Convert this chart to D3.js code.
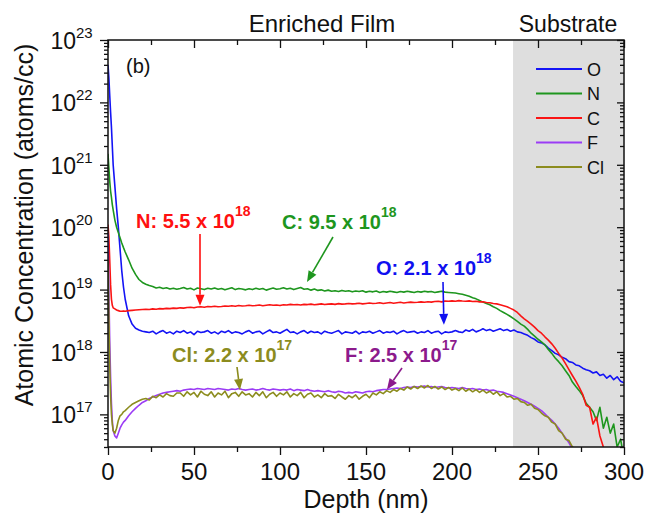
<!DOCTYPE html>
<html>
<head>
<meta charset="utf-8">
<script src="https://cdn.jsdelivr.net/npm/d3@7"></script>
<style>
  html, body { margin: 0; padding: 0; background: #fff; }
  svg { display: block; font-family: "Liberation Sans", Arial, sans-serif; }
</style>
</head>
<body>
<svg id="chart" width="648" height="517"></svg>
<script>
// Depth grid (nm): fine near the surface, 2 nm steps afterwards
const depthSurface = [0, 0.5, 1, 1.5, 2, 2.5, 3, 4, 5, 6, 7, 8, 9, 10, 12, 14, 16, 18, 20];
const depthNm = depthSurface.concat(d3.range(22, 301, 2));

// Oxygen, atoms/cc in units of 1e18
const oxygen = [
  40000, 25000, 13000, 7000, 4000, 2000, 1000, 450, 200, 100, 45, 20, 11, 7, 3.8, 2.8, 2.4, 2.25, 2.15,
  2.1, 2.05, 2.15, 1.95, 2.1, 2.2, 2.0, 2.1, 1.95, 2.15,
  2.05, 2.2, 2.0, 2.1, 1.9, 2.15, 2.05, 2.1, 2.2, 2.0,
  2.1, 1.95, 2.15, 2.05, 2.2, 2.0, 2.1, 2.05, 1.95, 2.1,
  2.2, 2.0, 2.1, 2.15, 1.95, 2.1, 2.25, 2.05, 2.1, 2.0,
  2.15, 2.3, 2.05, 2.1, 1.95, 2.1, 2.2, 2.0, 2.15, 2.05,
  2.1, 1.95, 2.15, 2.05, 2.0, 2.1, 2.2, 1.95, 2.1, 2.05,
  2.0, 2.15, 1.95, 2.1, 2.05, 2.15, 2.0, 2.1, 2.2, 2.0,
  2.1, 2.05, 2.15, 1.95, 2.1, 2.2, 2.05, 2.1, 2.15, 2.0,
  2.1, 2.05, 2.2, 2.0, 2.1, 2.15, 1.95, 2.1, 2.05, 2.1,
  2.2, 2.1, 2.05, 2.25, 2.15, 2.3, 2.1, 2.2, 2.35, 2.2,
  2.3, 2.15, 2.25, 2.35, 2.2, 2.3, 2.15, 2.25, 2.1, 2.05,
  1.95, 1.85, 1.7, 1.6, 1.45, 1.4, 1.3, 1.15, 1.05, 0.95,
  0.9, 0.82, 0.78, 0.7, 0.68, 0.62, 0.6, 0.55, 0.52, 0.5,
  0.46, 0.48, 0.42, 0.44, 0.38, 0.42, 0.36, 0.4, 0.34, 0.32
];

// Nitrogen, atoms/cc in units of 1e18
const nitrogen = [
  1500, 900, 550, 380, 300, 230, 190, 130, 100, 82, 68, 56, 47, 40, 30, 22, 17.5, 14.5, 13,
  12.2, 11.6, 11.2, 10.6, 10.9, 10.4, 10.7, 10.2, 10.5, 10.1,
  10.4, 10.8, 10.2, 10.5, 9.9, 10.6, 10.3, 10.0, 10.5, 10.2,
  10.6, 10.1, 10.4, 9.9, 10.3, 10.7, 10.0, 10.4, 10.2, 9.9,
  10.3, 10.0, 10.5, 10.1, 10.4, 9.8, 10.2, 10.6, 10.1, 10.3,
  10.7, 10.2, 10.5, 10.0, 10.4, 10.8, 10.1, 10.3, 9.8, 10.2,
  9.7, 9.9, 9.5, 9.8, 9.4, 9.6, 9.3, 9.7, 9.4, 9.6,
  9.2, 9.5, 9.3, 9.6, 9.1, 9.4, 9.2, 9.5, 9.0, 9.3,
  9.1, 9.4, 9.2, 9.0, 9.3, 9.1, 9.4, 9.2, 9.0, 9.3,
  9.1, 9.4, 9.2, 9.3, 9.0, 9.2, 9.4, 9.1, 9.0, 8.9,
  8.8, 8.6, 8.4, 8.1, 7.8, 7.4, 7.1, 6.7, 6.3, 6.0,
  5.7, 5.3, 5.0, 4.6, 4.3, 4.0, 3.7, 3.4, 3.1, 2.8,
  2.6, 2.3, 2.0, 1.8, 1.6, 1.45, 1.3, 1.1, 0.95, 0.8,
  0.7, 0.6, 0.5, 0.42, 0.33, 0.28, 0.24, 0.2, 0.15, 0.13,
  0.11, 0.08, 0.13, 0.06, 0.09, 0.05, 0.07, 0.03, 0.04, 0.02
];

// Carbon, atoms/cc in units of 1e18
const carbon = [
  110, 70, 30, 12, 7, 5.6, 5.1, 4.9, 4.7, 4.6, 4.5, 4.5, 4.55, 4.5, 4.6, 4.65, 4.7, 4.75, 4.8,
  4.85, 4.8, 4.9, 4.85, 4.95, 4.9, 5.0, 4.95, 5.05, 5.0,
  5.1, 5.05, 5.15, 5.2, 5.1, 5.25, 5.3, 5.2, 5.35, 5.3,
  5.4, 5.3, 5.35, 5.45, 5.4, 5.5, 5.4, 5.55, 5.45, 5.5,
  5.6, 5.5, 5.55, 5.65, 5.5, 5.6, 5.7, 5.6, 5.65, 5.55,
  5.7, 5.65, 5.8, 5.7, 5.75, 5.65, 5.8, 5.75, 5.85, 5.7,
  5.8, 5.9, 5.75, 5.85, 5.9, 5.8, 5.95, 5.85, 5.9, 6.0,
  5.9, 5.95, 6.05, 5.9, 6.0, 6.1, 6.0, 6.05, 6.15, 6.0,
  6.1, 6.2, 6.05, 6.15, 6.25, 6.1, 6.2, 6.3, 6.2, 6.25,
  6.35, 6.25, 6.4, 6.3, 6.45, 6.5, 6.35, 6.55, 6.5, 6.6,
  6.5, 6.65, 6.55, 6.5, 6.6, 6.45, 6.5, 6.35, 6.4, 6.2,
  6.15, 6.0, 5.9, 5.7, 5.5, 5.3, 5.0, 4.7, 4.3, 3.8,
  3.4, 3.1, 2.8, 2.5, 2.2, 2.0, 1.75, 1.55, 1.35, 1.15,
  0.95, 0.8, 0.65, 0.52, 0.42, 0.34, 0.27, 0.21, 0.14, 0.13,
  0.07, 0.09, 0.045, 0.03, 0.022, 0.018, 0.015, 0.012, 0.01, 0.01
];

// Fluorine, atoms/cc in units of 1e17
const fluorine = [
  800, 100, 15, 4, 1.5, 0.8, 0.55, 0.45, 0.42, 0.5, 0.6, 0.68, 0.75, 0.8, 0.95, 1.1, 1.25, 1.4, 1.55,
  1.65, 1.8, 1.9, 2.0, 2.1, 2.2, 2.25, 2.3, 2.35, 2.4,
  2.35, 2.45, 2.5, 2.55, 2.5, 2.6, 2.55, 2.5, 2.6, 2.55,
  2.5, 2.6, 2.55, 2.5, 2.45, 2.55, 2.5, 2.6, 2.5, 2.45,
  2.5, 2.55, 2.45, 2.5, 2.6, 2.5, 2.45, 2.55, 2.5, 2.45,
  2.5, 2.45, 2.55, 2.4, 2.5, 2.45, 2.4, 2.5, 2.4, 2.35,
  2.4, 2.35, 2.3, 2.4, 2.3, 2.25, 2.35, 2.3, 2.2, 2.25,
  2.2, 2.3, 2.25, 2.2, 2.3, 2.35, 2.3, 2.4, 2.45, 2.5,
  2.5, 2.55, 2.6, 2.65, 2.6, 2.7, 2.75, 2.7, 2.8, 2.75,
  2.8, 2.85, 2.75, 2.8, 2.7, 2.75, 2.8, 2.7, 2.65, 2.7,
  2.65, 2.6, 2.7, 2.6, 2.55, 2.6, 2.5, 2.55, 2.45, 2.5,
  2.4, 2.45, 2.35, 2.3, 2.25, 2.15, 2.05, 1.95, 1.85, 1.75,
  1.65, 1.55, 1.45, 1.35, 1.25, 1.15, 1.02, 0.9, 0.8, 0.7,
  0.6, 0.5, 0.42, 0.35, 0.28, 0.22, 0.18, 0.14, 0.1, 0.08,
  0.06, 0.05, 0.04, 0.03, 0.02, 0.02, 0.02, 0.02, 0.02, 0.02
];

// Chlorine, atoms/cc in units of 1e17
const chlorine = [
  300, 40, 6, 2, 1.0, 0.7, 0.55, 0.5, 0.6, 0.8, 0.95, 1.0, 1.1, 1.15, 1.3, 1.45, 1.55, 1.65, 1.75,
  1.8, 1.7, 1.95, 1.85, 2.05, 1.9, 2.15, 2.0, 1.95, 2.2,
  2.2, 1.95, 2.3, 2.05, 2.25, 1.9, 2.35, 2.1, 2.0, 2.3,
  1.9, 2.2, 2.05, 2.35, 1.85, 2.15, 2.25, 1.95, 2.3, 2.05,
  2.15, 1.9, 2.25, 2.0, 2.3, 1.85, 2.1, 2.25, 1.95, 2.2,
  2.05, 2.3, 1.9, 2.15, 2.0, 2.25, 1.85, 2.1, 2.2, 1.9,
  2.05, 1.85, 2.15, 1.95, 2.0, 1.8, 2.1, 1.9, 1.75, 2.0,
  1.85, 2.05, 1.75, 1.95, 2.1, 1.85, 2.2, 2.05, 2.3, 2.15,
  2.4, 2.25, 2.5, 2.35, 2.6, 2.45, 2.75, 2.55, 2.8, 2.6,
  2.85, 2.65, 2.9, 2.6, 2.8, 2.55, 2.75, 2.5, 2.7, 2.45,
  2.6, 2.4, 2.65, 2.35, 2.55, 2.3, 2.5, 2.25, 2.45, 2.2,
  2.35, 2.1, 2.3, 2.0, 2.15, 1.9, 1.95, 1.75, 1.8, 1.6,
  1.55, 1.4, 1.45, 1.25, 1.2, 1.05, 0.95, 0.9, 0.75, 0.7,
  0.55, 0.5, 0.4, 0.38, 0.3, 0.28, 0.22, 0.25, 0.15, 0.12,
  0.08, 0.06, 0.05, 0.04, 0.03, 0.02, 0.02, 0.02, 0.02, 0.02
];

const elements = ["O", "N", "C", "F", "Cl"];
const seriesValues = [oxygen, nitrogen, carbon, fluorine, chlorine];
const seriesUnits = [1e18, 1e18, 1e18, 1e17, 1e17];
const seriesColors = ["#1414f5", "#1e961e", "#fa1414", "#9b3cf5", "#8c8c1e"];

const xTicks = [0, 50, 100, 150, 200, 250, 300];
const xMinorTicks = [25, 75, 125, 175, 225, 275];
const yDecades = [17, 18, 19, 20, 21, 22, 23];

const substrateStart = 235.5;   // nm

// Stated averages with their arrows
const annotations = [
  { text: "N: 5.5 x 10", exp: "18", mant: 5.5e18, depth: 53.5, gap: 0, color: "#ff1010",
    tx: 136, ty: 228, ax: 200, ay: 234 },
  { text: "C: 9.5 x 10", exp: "18", mant: 9.5e18, depth: 115.7, gap: 9, color: "#1e961e",
    tx: 282, ty: 229, ax: 333, ay: 237 },
  { text: "O: 2.1 x 10", exp: "18", mant: 2.1e18, depth: 195.3, gap: 7, color: "#1010f0",
    tx: 376, ty: 275, ax: 443, ay: 282 },
  { text: "Cl: 2.2 x 10", exp: "17", mant: 2.2e17, depth: 76.7, gap: 3, color: "#8c8c1e",
    tx: 172, ty: 362, ax: 237, ay: 367 },
  { text: "F: 2.5 x 10", exp: "17", mant: 2.5e17, depth: 162.2, gap: 0, color: "#8c1a8c",
    tx: 345, ty: 362, ax: 402, ay: 368 }
];

// ---- layout ----
const margin = { left: 108, right: 24, top: 40, bottom: 70 };
const W = 648, H = 517;
const plotW = W - margin.left - margin.right;   // 516
const plotH = H - margin.top - margin.bottom;   // 407

const svg = d3.select("#chart");
const x = d3.scaleLinear().domain([0, 300]).range([margin.left, margin.left + plotW]);
const y = d3.scaleLog().domain([3e16, 1e23]).range([margin.top + plotH, margin.top]);

svg.append("defs").append("clipPath").attr("id", "plotClip")
  .append("rect").attr("x", margin.left).attr("y", margin.top)
  .attr("width", plotW).attr("height", plotH);

// substrate band
svg.append("rect")
  .attr("x", x(substrateStart)).attr("y", margin.top)
  .attr("width", x(300) - x(substrateStart)).attr("height", plotH)
  .attr("fill", "#dedede");

// profiles
const line = d3.line()
  .x(d => x(d[0]))
  .y(d => y(Math.max(d[1], 1e14)));

const curves = svg.append("g").attr("clip-path", "url(#plotClip)");
seriesValues.forEach((vals, i) => {
  const pts = depthNm.map((dd, k) => [dd, vals[k] * seriesUnits[i]]);
  curves.append("path")
    .datum(pts)
    .attr("d", line)
    .attr("fill", "none")
    .attr("stroke", seriesColors[i])
    .attr("stroke-width", 1.6)
    .attr("stroke-linejoin", "round");
});

// ---- axes ----
const axisColor = "#111";
function styleAxis(g) {
  g.select(".domain").remove();
  g.selectAll("line").attr("stroke", axisColor).attr("stroke-width", 1.3);
  g.selectAll("text").remove();
}
const yMinor = [];
for (let k = 16; k <= 22; k++) {
  for (let m = 2; m <= 9; m++) {
    const v = m * Math.pow(10, k);
    if (v >= 3e16 && v <= 1e23) yMinor.push(v);
  }
}
const yMajorVals = yDecades.map(e => Math.pow(10, e));

// bottom
svg.append("g").attr("transform", `translate(0,${margin.top + plotH})`)
  .call(d3.axisBottom(x).tickValues(xTicks).tickSize(8)).call(styleAxis);
svg.append("g").attr("transform", `translate(0,${margin.top + plotH})`)
  .call(d3.axisBottom(x).tickValues(xMinorTicks).tickSize(5)).call(styleAxis);
// top (inward)
svg.append("g").attr("transform", `translate(0,${margin.top})`)
  .call(d3.axisTop(x).tickValues(xTicks).tickSize(-8)).call(styleAxis);
svg.append("g").attr("transform", `translate(0,${margin.top})`)
  .call(d3.axisTop(x).tickValues(xMinorTicks).tickSize(-5)).call(styleAxis);
// left
svg.append("g").attr("transform", `translate(${margin.left},0)`)
  .call(d3.axisLeft(y).tickValues(yMajorVals).tickSize(8)).call(styleAxis);
svg.append("g").attr("transform", `translate(${margin.left},0)`)
  .call(d3.axisLeft(y).tickValues(yMinor).tickSize(4)).call(styleAxis);
// right (inward)
svg.append("g").attr("transform", `translate(${margin.left + plotW},0)`)
  .call(d3.axisRight(y).tickValues(yMajorVals).tickSize(-7)).call(styleAxis);
svg.append("g").attr("transform", `translate(${margin.left + plotW},0)`)
  .call(d3.axisRight(y).tickValues(yMinor).tickSize(-4)).call(styleAxis);

// frame
svg.append("rect")
  .attr("x", margin.left).attr("y", margin.top)
  .attr("width", plotW).attr("height", plotH)
  .attr("fill", "none").attr("stroke", axisColor).attr("stroke-width", 1.5);

// x tick labels
svg.append("g").selectAll("text").data(xTicks).join("text")
  .attr("x", d => x(d)).attr("y", margin.top + plotH + 33)
  .attr("text-anchor", "middle").attr("font-size", 24).attr("fill", axisColor)
  .text(d => d);

// y tick labels: 10 with superscript exponent
const yLab = svg.append("g");
yDecades.forEach(e => {
  const py = y(Math.pow(10, e));
  yLab.append("text").attr("x", 76).attr("y", py + 9)
    .attr("text-anchor", "end").attr("font-size", 23).attr("fill", axisColor).text("10");
  yLab.append("text").attr("x", 76).attr("y", py - 2)
    .attr("text-anchor", "start").attr("font-size", 15).attr("fill", axisColor).text(e);
});

// axis titles
svg.append("text")
  .attr("x", x(150)).attr("y", 508)
  .attr("text-anchor", "middle").attr("font-size", 25).attr("fill", axisColor)
  .text("Depth (nm)");
svg.append("text")
  .attr("transform", `translate(33,${225}) rotate(-90)`)
  .attr("text-anchor", "middle").attr("font-size", 25).attr("fill", axisColor)
  .text("Atomic Concentration (atoms/cc)");

// region titles
svg.append("text").attr("x", 322).attr("y", 32)
  .attr("text-anchor", "middle").attr("font-size", 24).attr("fill", axisColor)
  .text("Enriched Film");
svg.append("text").attr("x", 568).attr("y", 32)
  .attr("text-anchor", "middle").attr("font-size", 23).attr("fill", axisColor)
  .text("Substrate");

// panel tag
svg.append("text").attr("x", 126).attr("y", 73)
  .attr("font-size", 20).attr("fill", axisColor).text("(b)");

// legend
const legend = svg.append("g");
elements.forEach((name, i) => {
  const ly = 69 + i * 24.5;
  legend.append("line").attr("x1", 536).attr("x2", 582).attr("y1", ly).attr("y2", ly)
    .attr("stroke", seriesColors[i]).attr("stroke-width", 2);
  legend.append("text").attr("x", 587).attr("y", ly + 6.5)
    .attr("font-size", 18).attr("fill", axisColor).text(name);
});

// annotations
const ann = svg.append("g").attr("font-weight", "bold");
annotations.forEach(a => {
  const t = ann.append("text").attr("x", a.tx).attr("y", a.ty)
    .attr("font-size", 20).attr("fill", a.color);
  t.append("tspan").text(a.text);
  t.append("tspan").attr("font-size", 14).attr("dy", -12).text(a.exp);

  const tipX = x(a.depth), tipY = y(a.mant) - a.gap;
  const ang = Math.atan2(tipY - a.ay, tipX - a.ax);
  const headLen = 11, headW = 4.5;
  const bx = tipX - headLen * Math.cos(ang), by = tipY - headLen * Math.sin(ang);
  ann.append("line").attr("x1", a.ax).attr("y1", a.ay).attr("x2", bx).attr("y2", by)
    .attr("stroke", a.color).attr("stroke-width", 1.6);
  const px = -Math.sin(ang), py = Math.cos(ang);
  ann.append("path")
    .attr("d", `M${tipX},${tipY}L${bx + px * headW},${by + py * headW}L${bx - px * headW},${by - py * headW}Z`)
    .attr("fill", a.color);
});
</script>
</body>
</html>
